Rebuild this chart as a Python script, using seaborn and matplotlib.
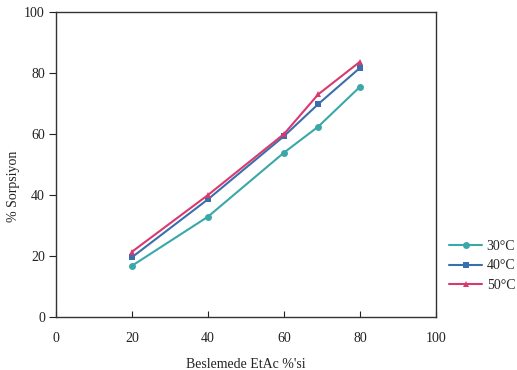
import matplotlib
matplotlib.use("Agg")
import matplotlib.pyplot as plt
import seaborn as sns
import pandas as pd

# EtAc percentage in the feed
feed_etac = [20, 40, 60, 69, 80]

# Sorption (%) at each temperature
sorp_30 = [16.8, 32.9, 53.9, 62.4, 75.5]
sorp_40 = [19.6, 38.6, 59.3, 69.8, 81.7]
sorp_50 = [21.4, 40.0, 60.0, 73.0, 83.7]

series_labels = ["30°C", "40°C", "50°C"]
x_ticks = [0, 20, 40, 60, 80, 100]
y_ticks = [0, 20, 40, 60, 80, 100]

rows = []
for lab, vals in zip(series_labels, [sorp_30, sorp_40, sorp_50]):
    for x, y in zip(feed_etac, vals):
        rows.append({"EtAc": x, "Sorpsiyon": y, "T": lab})
df = pd.DataFrame(rows)

sns.set_theme(style="white")
plt.rcParams["font.family"] = ["Liberation Serif", "DejaVu Serif"]

fig = plt.figure(figsize=(5.17, 3.70), dpi=100)
ax = fig.add_axes([56 / 517, 1 - 317 / 370, 380 / 517, 305 / 370])

palette = {"30°C": "#3aa8a8", "40°C": "#3a6fae", "50°C": "#d93a6e"}
markers = {"30°C": "o", "40°C": "s", "50°C": "^"}

sns.lineplot(data=df, x="EtAc", y="Sorpsiyon", hue="T", style="T",
             palette=palette, markers=markers, dashes=False,
             markersize=5, linewidth=1.5, markeredgewidth=0,
             ax=ax, legend=False)

ax.set_xlim(0, 100)
ax.set_ylim(0, 100)
ax.set_xticks(x_ticks)
ax.set_yticks(y_ticks)
ax.tick_params(axis="y", direction="out", length=5, width=0.8, colors="#222222",
               labelsize=10, left=True, pad=3)
ax.tick_params(axis="x", direction="in", length=4, width=0.8, colors="#222222",
               labelsize=10, bottom=True, pad=11)
for s in ax.spines.values():
    s.set_color("#333333")
    s.set_linewidth(1.0)

ax.set_xlabel("Beslemede EtAc %'si", fontsize=10, color="#222222", labelpad=9)
ax.set_ylabel("% Sorpsiyon", fontsize=10, color="#222222")
ax.yaxis.set_label_coords(-0.095, 0.43)

handles = [plt.Line2D([], [], color=palette[l], marker=markers[l], markersize=5,
                      markeredgewidth=0, linewidth=1.5) for l in series_labels]
ax.legend(handles, series_labels, loc="upper left", bbox_to_anchor=(1.02, 0.27),
          frameon=False, fontsize=10, handlelength=2.4, labelspacing=0.45,
          handletextpad=0.3, borderaxespad=0)

fig.savefig("out.png", dpi=100)
